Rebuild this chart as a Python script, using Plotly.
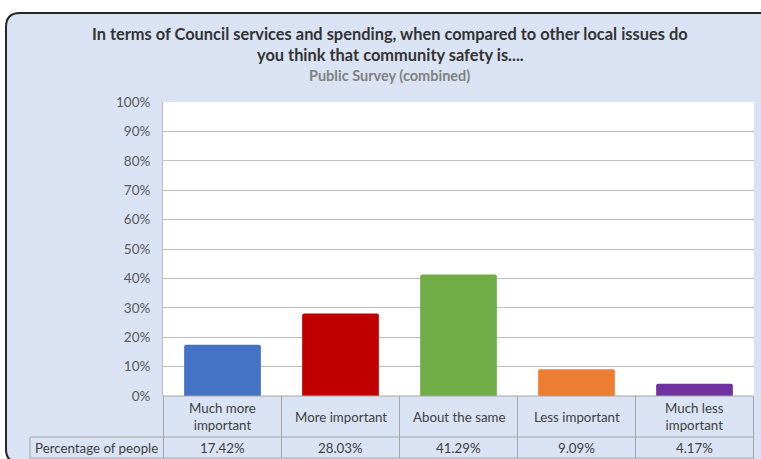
import plotly.graph_objects as go

# ---- data ----
categories = ["Much more important", "More important", "About the same",
              "Less important", "Much less important"]
cat_labels = ["Much more<br>important", "More important", "About the same",
              "Less important", "Much less<br>important"]
values = [17.42, 28.03, 41.29, 9.09, 4.17]
bar_colors = ["#4472c4", "#c00000", "#70ad47", "#ed7d31", "#7030a0"]
series_name = "Percentage of people"
title_lines = ["In terms of Council services and spending, when compared to other local issues do",
               "you think that community safety is...."]
subtitle = "Public Survey (combined)"
y_ticks = list(range(0, 101, 10))

# ---- geometry (pixels) ----
W, H = 761, 459
L, R, T, B = 163, 7, 102, 63
PW, PH = W - L - R, H - T - B
BG = "#dae3f3"
GRID = "#bfbfbf"
TABLE = "#a6a6a6"
FONT = "Lato, Carlito, Calibri, sans-serif"


def px(x):
    return (x - L) / PW


def py(y):
    return (H - B - y) / PH


def rounded_rect(x0, y0, x1, y1, r):
    pts = []
    pts.append(f"M {px(x0 + r)},{py(y0)}")
    pts.append(f"L {px(x1 - r)},{py(y0)}")
    pts.append(f"Q {px(x1)},{py(y0)} {px(x1)},{py(y0 + r)}")
    pts.append(f"L {px(x1)},{py(y1 - r)}")
    pts.append(f"Q {px(x1)},{py(y1)} {px(x1 - r)},{py(y1)}")
    pts.append(f"L {px(x0 + r)},{py(y1)}")
    pts.append(f"Q {px(x0)},{py(y1)} {px(x0)},{py(y1 - r)}")
    pts.append(f"L {px(x0)},{py(y0 + r)}")
    pts.append(f"Q {px(x0)},{py(y0)} {px(x0 + r)},{py(y0)}")
    pts.append("Z")
    return " ".join(pts)


fig = go.Figure()
fig.add_trace(go.Bar(
    x=categories, y=values, name=series_name,
    marker=dict(color=bar_colors, line=dict(width=0), cornerradius=2),
    hoverinfo="skip",
))

shapes = []
# chart area with rounded dark border
shapes.append(dict(type="path", xref="paper", yref="paper", layer="below",
                   path=rounded_rect(6, 13, 773, 463, 14),
                   fillcolor=BG, line=dict(color="#262626", width=2)))
# white plot area
shapes.append(dict(type="rect", xref="paper", yref="paper", layer="below",
                   x0=0, x1=1, y0=0, y1=1, fillcolor="white", line=dict(width=0)))

# data table lines
row1_bottom = py(437)
table_bottom = py(458)
for i in range(len(categories) + 1):
    shapes.append(dict(type="line", xref="x", yref="paper",
                       x0=i - 0.5, x1=i - 0.5, y0=0, y1=table_bottom,
                       line=dict(color=TABLE, width=1)))
shapes.append(dict(type="line", xref="paper", yref="paper",
                   x0=0, x1=1, y0=0, y1=0, line=dict(color=TABLE, width=1)))
shapes.append(dict(type="line", xref="paper", yref="paper",
                   x0=px(30), x1=1, y0=row1_bottom, y1=row1_bottom,
                   line=dict(color=TABLE, width=1)))
shapes.append(dict(type="line", xref="paper", yref="paper",
                   x0=px(30), x1=1, y0=table_bottom, y1=table_bottom,
                   line=dict(color=TABLE, width=1)))
shapes.append(dict(type="line", xref="paper", yref="paper",
                   x0=px(30), x1=px(30), y0=row1_bottom, y1=table_bottom,
                   line=dict(color=TABLE, width=1)))

annotations = []
# titles
for text, yy in zip(title_lines, [33, 55]):
    annotations.append(dict(text="<b>" + text + "</b>", xref="paper", yref="paper",
                            x=px(390), y=py(yy), xanchor="center", yanchor="middle",
                            showarrow=False, font=dict(family=FONT, size=16.4, color="#333333")))
annotations.append(dict(text="<b>" + subtitle + "</b>", xref="paper", yref="paper",
                        x=px(389), y=py(75), xanchor="center", yanchor="middle",
                        showarrow=False, font=dict(family=FONT, size=14.5, color="#808080")))

# table text
cell_mid1 = py(416.5)
cell_mid2 = py(447.5)
for cat, lab, v in zip(categories, cat_labels, values):
    annotations.append(dict(text=lab, xref="x", yref="paper", x=cat, y=cell_mid1,
                            xanchor="center", yanchor="middle", showarrow=False,
                            font=dict(family=FONT, size=13.3, color="#404040")))
    annotations.append(dict(text=f"{v:.2f}%", xref="x", yref="paper", x=cat, y=cell_mid2,
                            xanchor="center", yanchor="middle", showarrow=False,
                            font=dict(family=FONT, size=13.3, color="#404040")))
annotations.append(dict(text=series_name, xref="paper", yref="paper", x=px(33), y=cell_mid2,
                        xanchor="left", yanchor="middle", showarrow=False,
                        font=dict(family=FONT, size=13.3, color="#404040")))

fig.update_layout(
    width=W, height=H,
    margin=dict(l=L, r=R, t=T, b=B, pad=0),
    paper_bgcolor="white", plot_bgcolor="white",
    showlegend=False, bargap=0.35,
    shapes=shapes, annotations=annotations,
    xaxis=dict(showticklabels=False, showgrid=False, zeroline=False, showline=False,
               ticks="", fixedrange=True),
    yaxis=dict(range=[0, 100], tickvals=y_ticks, ticktext=[f"{t}%" for t in y_ticks],
               showgrid=True, gridcolor=GRID, gridwidth=1, zeroline=False,
               showline=True, linecolor=GRID, linewidth=1, ticks="",
               ticklabelstandoff=9,
               tickfont=dict(family=FONT, size=13.5, color="#595959"), fixedrange=True),
    font=dict(family=FONT),
)

fig.write_html("out.html")
